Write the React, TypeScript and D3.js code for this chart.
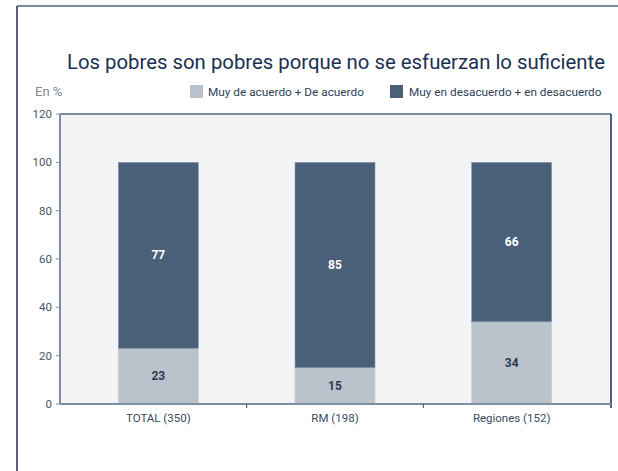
import React from "react";
import * as d3 from "d3";

const categories = ["TOTAL (350)", "RM (198)", "Regiones (152)"];
const acuerdo = [23, 15, 34];
const desacuerdo = [77, 85, 66];
const yTicks = [0, 20, 40, 60, 80, 100, 120];
const seriesNames = ["Muy de acuerdo + De acuerdo", "Muy en desacuerdo + en desacuerdo"];

const W = 618;
const H = 471;
const plot = { left: 60, right: 611, top: 114, bottom: 404 };
const colLight = "#bac3cc";
const colDark = "#4a5f78";
const font = "Roboto, 'DejaVu Sans', sans-serif";

export default function App() {
  const x = d3.scaleBand<string>().domain(categories).range([70, 600]).paddingInner(0).paddingOuter(0);
  const y = d3.scaleLinear().domain([0, 120]).range([plot.bottom, plot.top]);
  const bw = 80;
  const stacked = categories.map((c, i) => ({ c, a: acuerdo[i], d: desacuerdo[i] }));

  return (
    <svg width={W} height={H} style={{ position: "absolute", left: 0, top: 0, background: "#fff" }} fontFamily={font}>
      {/* frame */}
      <line x1={17} y1={6} x2={W} y2={6} stroke="#4d6280" strokeWidth={1.5} />
      <line x1={17} y1={6} x2={17} y2={H} stroke="#1e2d4a" strokeWidth={1.5} />

      {/* title */}
      <text x={336} y={69} textAnchor="middle" fontSize={20.5} fill="#1a3050" fontWeight={400} textLength={538} lengthAdjust="spacingAndGlyphs">
        Los pobres son pobres porque no se esfuerzan lo suficiente
      </text>
      <text x={35} y={96} fontSize={13} fill="#7d8898">En %</text>

      {/* legend */}
      <rect x={190} y={85} width={13} height={13} fill={colLight} />
      <text x={208} y={96} fontSize={11.8} fill="#2e3f58">{seriesNames[0]}</text>
      <rect x={390} y={85} width={13} height={13} fill={colDark} />
      <text x={409} y={96} fontSize={11.8} fill="#2e3f58">{seriesNames[1]}</text>

      {/* plot background */}
      <rect x={plot.left} y={plot.top} width={plot.right - plot.left} height={plot.bottom - plot.top} fill="#f2f4f6" />
      <line x1={plot.left} y1={plot.top} x2={plot.right} y2={plot.top} stroke="#7d8ea3" strokeWidth={2} />
      <line x1={plot.right} y1={plot.top} x2={plot.right} y2={plot.bottom + 4} stroke="#1e2d4a" strokeWidth={1.5} />

      {/* bars */}
      {stacked.map((s) => {
        const cx = (x(s.c) as number) + x.bandwidth() / 2;
        return (
          <g key={s.c}>
            <rect x={cx - bw / 2} y={y(s.a)} width={bw} height={y(0) - y(s.a)} fill={colLight} stroke="#c9d0d7" strokeWidth={0.8} />
            <rect x={cx - bw / 2} y={y(s.a + s.d)} width={bw} height={y(s.a) - y(s.a + s.d)} fill={colDark} stroke="#8a9bb0" strokeWidth={0.6} />
            <text x={cx} y={(y(0) + y(s.a)) / 2 + 4} textAnchor="middle" fontSize={12} fontWeight={700} fill="#2a3a55">{s.a}</text>
            <text x={cx} y={(y(s.a) + y(s.a + s.d)) / 2 + 4} textAnchor="middle" fontSize={12} fontWeight={700} fill="#ffffff">{s.d}</text>
          </g>
        );
      })}

      {/* y axis */}
      <line x1={plot.left} y1={plot.top} x2={plot.left} y2={plot.bottom} stroke="#7d8ea3" strokeWidth={2} />
      {yTicks.map((t) => (
        <g key={t}>
          <line x1={plot.left - 4} x2={plot.left} y1={y(t)} y2={y(t)} stroke="#7d8ea3" strokeWidth={1} />
          <text x={plot.left - 8} y={y(t) + 4} textAnchor="end" fontSize={11.5} fill="#4a5566">{t}</text>
        </g>
      ))}

      {/* x axis */}
      <line x1={plot.left} y1={plot.bottom} x2={plot.right} y2={plot.bottom} stroke="#7d8ea3" strokeWidth={2} />
      {categories.slice(1).map((c) => (
        <line key={c} x1={x(c) as number} x2={x(c) as number} y1={plot.bottom} y2={plot.bottom + 4} stroke="#3a4a60" strokeWidth={1} />
      ))}
      {categories.map((c) => (
        <text key={c} x={(x(c) as number) + x.bandwidth() / 2} y={plot.bottom + 18} textAnchor="middle" fontSize={11.5} fill="#3a4a60">{c}</text>
      ))}
    </svg>
  );
}
